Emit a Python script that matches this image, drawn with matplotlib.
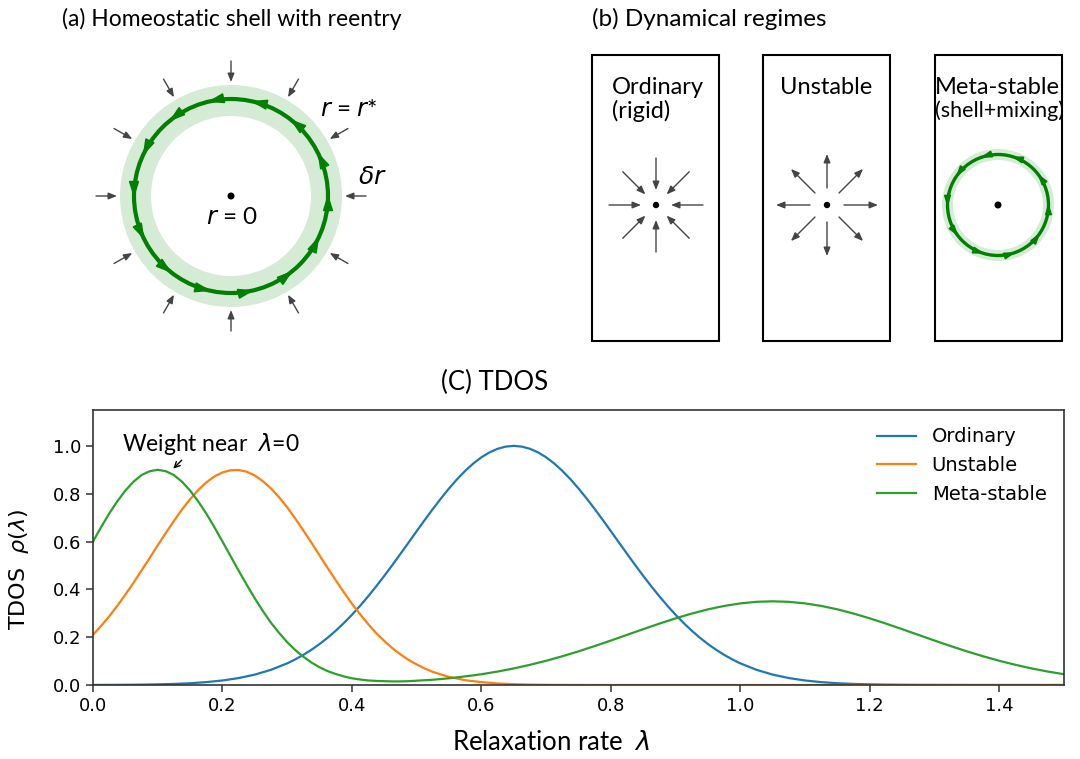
import numpy as np
import matplotlib
matplotlib.use("Agg")
import matplotlib.pyplot as plt
from matplotlib.patches import Circle, Wedge, Rectangle
from matplotlib.ticker import FormatStrFormatter

# relaxation rate grids (finer where the curves bend)
lam_o = np.r_[np.arange(12) * 0.025, 0.3 + np.arange(56) * 0.0125, 1.0 + np.arange(21) * 0.025]
lam_u = np.r_[np.arange(48) * 0.0125, 0.6 + np.arange(37) * 0.025]
lam_m = np.r_[np.arange(40) * 0.0125, 0.5 + np.arange(41) * 0.025]

ordinary = [0.0003, 0.0005, 0.0009, 0.0015, 0.0027, 0.0045, 0.0074, 0.0120, 0.0189, 0.0290,
            0.0434, 0.0635,
            0.0905, 0.1072, 0.1261, 0.1474, 0.1712, 0.1978, 0.2270, 0.2590, 0.2936, 0.3309,
            0.3706, 0.4126, 0.4564, 0.5019, 0.5486, 0.5958, 0.6433, 0.6902, 0.7361, 0.7802,
            0.8219, 0.8606, 0.8956, 0.9263, 0.9522, 0.9728, 0.9878, 0.9969, 1.0, 0.9969,
            0.9878, 0.9728, 0.9522, 0.9263, 0.8956, 0.8606, 0.8219, 0.7802, 0.7361, 0.6902,
            0.6433, 0.5958, 0.5486, 0.5019, 0.4564, 0.4126, 0.3706, 0.3309, 0.2936, 0.2590,
            0.2270, 0.1978, 0.1712, 0.1474, 0.1261, 0.1072,
            0.0905, 0.0635, 0.0434, 0.0290, 0.0189, 0.0120, 0.0074, 0.0045, 0.0027, 0.0015,
            0.0009, 0.0005, 0.0003, 0.0001, 0.0, 0.0, 0.0, 0.0, 0.0, 0.0, 0.0]

unstable = [0.210, 0.247, 0.287, 0.331, 0.378, 0.427, 0.479, 0.531, 0.584, 0.636,
            0.686, 0.734, 0.777, 0.815, 0.847, 0.872, 0.889, 0.898, 0.899, 0.892,
            0.876, 0.852, 0.822, 0.785, 0.743, 0.696, 0.646, 0.595, 0.542, 0.489,
            0.438, 0.388, 0.340, 0.296, 0.255, 0.217, 0.184, 0.154, 0.128, 0.105,
            0.086, 0.069, 0.055, 0.044, 0.034, 0.027, 0.020, 0.016,
            0.012, 0.0065, 0.0035, 0.0018, 0.0009, 0.0004, 0.0002, 0.0, 0.0, 0.0,
            0.0, 0.0, 0.0, 0.0, 0.0, 0.0, 0.0, 0.0, 0.0, 0.0,
            0.0, 0.0, 0.0, 0.0, 0.0, 0.0, 0.0, 0.0, 0.0, 0.0,
            0.0, 0.0, 0.0, 0.0, 0.0, 0.0, 0.0]

metastable = [0.600, 0.660, 0.717, 0.768, 0.813, 0.850, 0.878, 0.894, 0.900, 0.894,
              0.878, 0.850, 0.813, 0.768, 0.717, 0.660, 0.600, 0.539, 0.478, 0.419,
              0.362, 0.309, 0.260, 0.218, 0.179, 0.146, 0.118, 0.094, 0.074, 0.058,
              0.046, 0.036, 0.028, 0.023, 0.019, 0.017, 0.016, 0.015, 0.015, 0.016,
              0.018, 0.022, 0.028, 0.036, 0.045, 0.0562, 0.0693, 0.0844, 0.1013, 0.1202,
              0.1407, 0.1628, 0.1859, 0.2097, 0.2335, 0.2567, 0.2787, 0.2988, 0.3163, 0.3306,
              0.3412, 0.3478, 0.350, 0.3478, 0.3412, 0.3306, 0.3163, 0.2988, 0.2787, 0.2567,
              0.2335, 0.2097, 0.1859, 0.1628, 0.1407, 0.1202, 0.1013, 0.0844, 0.0693, 0.0562,
              0.0451]

series = [("Ordinary", lam_o, ordinary, "#1f77b4"),
          ("Unstable", lam_u, unstable, "#ff7f0e"),
          ("Meta-stable", lam_m, metastable, "#2ca02c")]

LATO = "Lato"
SHELL = "#d5ebd5"
GREEN = "green"
GREY = "#444444"

fig = plt.figure(figsize=(10.8, 7.59), dpi=100)

# overlay in pixel coords for the two sketches
ov = fig.add_axes([0, 0, 1, 1])
ov.set_xlim(0, 1080)
ov.set_ylim(759, 0)
ov.axis("off")


def arrow(ax, p0, p1, color, lw, style, ms):
    ax.annotate("", xy=p1, xytext=p0,
                arrowprops=dict(arrowstyle=style, color=color, lw=lw,
                                mutation_scale=ms, shrinkA=0, shrinkB=0))


def shell(ax, c, r_out, width, r_line, lw, n_heads, ms, start):
    ax.add_patch(Wedge(c, r_out, 0, 360, width=width, color=SHELL, lw=0))
    ax.add_patch(Circle(c, r_line, fill=False, ec=GREEN, lw=lw))
    for k in range(n_heads):
        th = np.deg2rad(start + k * 360.0 / n_heads)
        p = np.array([c[0] + r_line * np.cos(th), c[1] - r_line * np.sin(th)])
        t = np.array([-np.sin(th), -np.cos(th)])
        arrow(ax, p - t * 2, p + t * 2, GREEN, 1.2,
              "-|>,head_length=0.7,head_width=0.22", ms)
    ax.add_patch(Circle(c, 2.8, color="black"))


# (a) homeostatic shell
ca = (231, 196)
shell(ov, ca, 111, 31, 97, 3, 14, 14, 180)
for k in range(12):
    th = np.deg2rad(k * 30)
    u = np.array([np.cos(th), -np.sin(th)])
    arrow(ov, np.array(ca) + 135 * u, np.array(ca) + 114 * u, GREY, 1.0,
          "-|>,head_length=0.5,head_width=0.2", 10)
ov.text(232, 19, "(a) Homeostatic shell with reentry", fontsize=16.5, family=LATO,
        ha="center", va="center")
ov.text(349, 110, r"$r$ = $r$*", fontsize=17.5, family=LATO, ha="center", va="center")
ov.text(372, 177, r"$\delta r$", fontsize=18, ha="center", va="center")
ov.text(232, 218, r"$r$ = 0", fontsize=17.5, family=LATO, ha="center", va="center")

# (b) dynamical regimes
ov.text(709, 19, "(b) Dynamical regimes", fontsize=17.5, family=LATO, ha="center", va="center")
for x0 in [592, 763, 935]:
    ov.add_patch(Rectangle((x0, 55), 127, 286, fill=False, ec="black", lw=1.5))
ov.text(612, 87, "Ordinary", fontsize=17, family=LATO, ha="left", va="center")
ov.text(612, 111, "(rigid)", fontsize=17, family=LATO, ha="left", va="center")
ov.text(826, 87, "Unstable", fontsize=17, family=LATO, ha="center", va="center")
ov.text(935, 87, "Meta-stable", fontsize=17, family=LATO, ha="left", va="center")
ov.text(935, 111, "(shell+mixing)", fontsize=15.5, family=LATO, ha="left", va="center")

c1 = np.array([656, 205])
c2 = np.array([827, 205])
for k in range(8):
    th = np.deg2rad(k * 45)
    u = np.array([np.cos(th), -np.sin(th)])
    arrow(ov, c1 + 47 * u, c1 + 15 * u, GREY, 1.0,
          "-|>,head_length=0.5,head_width=0.2", 10)
    arrow(ov, c2 + 17 * u, c2 + 51 * u, GREY, 1.0,
          "-|>,head_length=0.5,head_width=0.2", 10)
ov.add_patch(Circle(c1, 2.5, color="black"))
ov.add_patch(Circle(c2, 2.5, color="black"))
shell(ov, (998, 205), 56, 11, 50.5, 2.4, 10, 9, 0)

# (c) TDOS
ax = fig.add_axes([93 / 1080, (759 - 685) / 759, (1064 - 93) / 1080, (685 - 410) / 759])
for name, x, vals, col in series:
    ax.plot(x, vals, color=col, lw=1.6, label=name)
ax.set_xlim(0, 1.5)
ax.set_ylim(0, 1.15)
ax.set_xticks(np.arange(8) * 0.2)
ax.set_yticks(np.arange(6) * 0.2)
ax.xaxis.set_major_formatter(FormatStrFormatter("%.1f"))
ax.yaxis.set_major_formatter(FormatStrFormatter("%.1f"))
ax.tick_params(labelsize=13, length=5, width=1.1, color="#333333")
for s in ax.spines.values():
    s.set_color("#333333")
    s.set_linewidth(1.2)
fig.text(19 / 1080, 1 - 569 / 759, r"TDOS  $\rho(\lambda)$", fontsize=16, rotation=90,
         ha="center", va="center")
fig.text(551 / 1080, 1 - 742 / 759, r"Relaxation rate  $\lambda$", fontsize=18.5,
         family=LATO, ha="center", va="center")
fig.text(495 / 1080, 1 - 382 / 759, "(C) TDOS", fontsize=18.5, family=LATO,
         ha="center", va="center")
ax.legend(loc="upper right", frameon=False, fontsize=14, handlelength=2.0)
ax.text(0.045, 1.007, r"Weight near  $\lambda$=0", fontsize=16.5, family=LATO,
        ha="left", va="center")
ax.annotate("", xy=(0.124, 0.905), xytext=(0.137, 0.94),
            arrowprops=dict(arrowstyle="->", lw=1.0, color="black",
                            shrinkA=0, shrinkB=0))

fig.savefig("out.png", dpi=100)
